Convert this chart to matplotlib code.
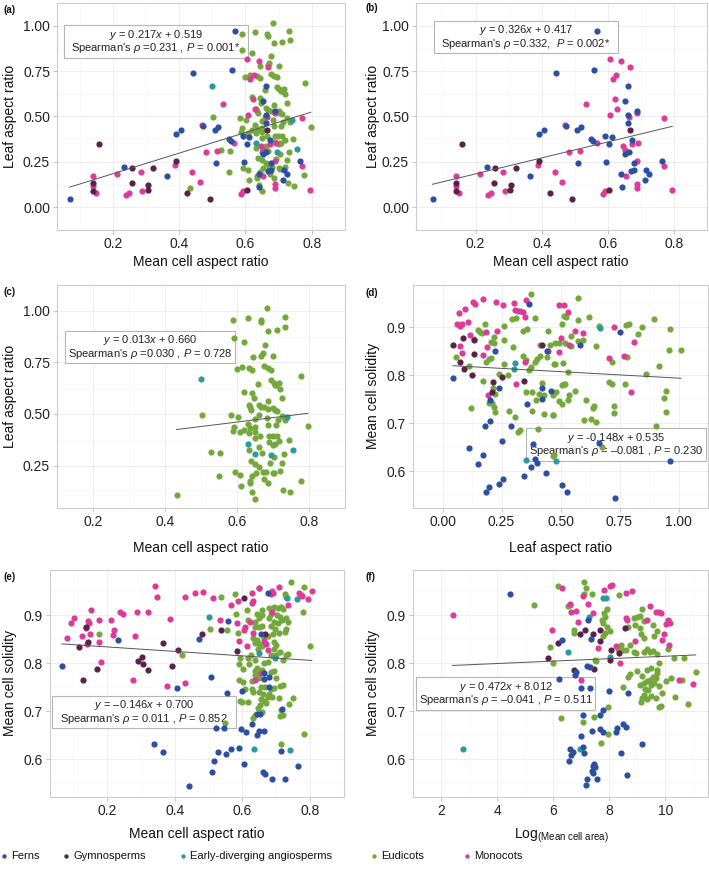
import matplotlib
matplotlib.use('Agg')
import matplotlib.pyplot as plt
from matplotlib.patches import Rectangle
import numpy as np

W, H = 709, 872
plt.rcParams['font.family'] = ['Liberation Sans', 'DejaVu Sans']
plt.rcParams['mathtext.fontset'] = 'custom'
plt.rcParams['mathtext.rm'] = 'Liberation Sans'
plt.rcParams['mathtext.it'] = 'Liberation Sans:italic'
plt.rcParams['mathtext.bf'] = 'Liberation Sans:bold'

# ---------------- colours / groups ----------------
groups = ['Ferns', 'Gymnosperms', 'Early-diverging angiosperms', 'Eudicots', 'Monocots']
colors = {'Ferns': '#2d4fa1', 'Gymnosperms': '#5b2249', 'Early-diverging angiosperms': '#2a9a9c',
          'Eudicots': '#74a83c', 'Monocots': '#de3a98'}

# ---------------- panels a/b/c : mean cell aspect ratio vs leaf aspect ratio ----------------
fern_car = [0.070,0.234,0.365,0.392,0.407,0.443,0.473,0.507,0.518,0.511,0.550,0.555,0.559,0.568,0.592,
            0.596,0.604,0.612,0.640,0.642,0.652,0.652,0.662,0.662,0.662,0.663,0.669,0.673,0.678,0.678,
            0.688,0.713,0.717,0.725,0.764]
fern_lar = [0.045,0.224,0.174,0.402,0.427,0.737,0.447,0.424,0.443,0.242,0.378,0.363,0.755,0.970,0.393,
            0.252,0.350,0.387,0.183,0.112,0.585,0.292,0.669,0.509,0.462,0.305,0.199,0.369,0.204,0.242,
            0.529,0.151,0.204,0.186,0.257]
gym_car = [0.160,0.142,0.140,0.259,0.257,0.306,0.305,0.322,0.392,0.425,0.493,0.604,0.666]
gym_lar = [0.347,0.133,0.088,0.214,0.136,0.121,0.094,0.218,0.257,0.076,0.045,0.097,0.426]
mono_car = [0.142,0.142,0.150,0.213,0.239,0.248,0.284,0.288,0.388,0.440,0.462,0.470,0.482,0.515,0.533,
            0.566,0.587,0.592,0.606,0.608,0.615,0.625,0.622,0.628,0.641,0.647,0.653,0.654,0.667,0.665,
            0.673,0.688,0.688,0.688,0.688,0.692,0.769,0.769,0.795]
mono_lar = [0.174,0.115,0.076,0.186,0.065,0.076,0.192,0.088,0.231,0.192,0.140,0.453,0.307,0.308,0.568,
            0.352,0.073,0.088,0.816,0.506,0.707,0.730,0.598,0.539,0.804,0.338,0.314,0.175,0.775,0.497,
            0.350,0.520,0.257,0.130,0.109,0.356,0.491,0.228,0.094]
early_car = [0.500,0.631,0.650,0.694,0.739,0.755]
early_lar = [0.670,0.352,0.306,0.303,0.483,0.323]
eud_car = [0.683,0.589,0.630,0.666,0.668,0.732,0.733,0.687,0.711,0.591,0.620,0.678,0.672,0.668,0.645,
           0.700,0.599,0.615,0.634,0.643,0.676,0.686,0.695,0.778,0.694,0.702,0.709,0.716,0.706,0.719,
           0.659,0.620,0.643,0.646,0.726,0.686,0.502,0.583,0.602,0.632,0.635,0.639,0.662,0.668,0.676,
           0.685,0.700,0.705,0.711,0.683,0.649,0.660,0.713,0.726,0.733,0.797,0.591,0.588,0.607,0.619,
           0.630,0.632,0.637,0.651,0.650,0.650,0.665,0.685,0.707,0.689,0.699,0.711,0.689,0.700,0.706,
           0.718,0.744,0.527,0.554,0.632,0.662,0.669,0.704,0.730,0.638,0.650,0.692,0.662,0.672,0.680,
           0.700,0.703,0.720,0.725,0.594,0.609,0.551,0.643,0.653,0.636,0.635,0.675,0.686,0.610,0.777,
           0.728,0.746,0.641,0.650,0.432]
eud_lar = [1.015,0.953,0.964,0.953,0.944,0.970,0.923,0.902,0.909,0.867,0.848,0.833,0.794,0.783,0.776,
           0.779,0.720,0.727,0.723,0.711,0.732,0.723,0.715,0.682,0.664,0.652,0.641,0.652,0.638,0.623,
           0.644,0.608,0.600,0.577,0.576,0.564,0.497,0.494,0.483,0.542,0.533,0.521,0.545,0.536,0.532,
           0.524,0.530,0.520,0.512,0.482,0.477,0.495,0.470,0.492,0.470,0.442,0.436,0.417,0.411,0.424,
           0.452,0.409,0.430,0.435,0.412,0.382,0.394,0.448,0.448,0.395,0.395,0.395,0.362,0.348,0.356,
           0.370,0.376,0.317,0.312,0.327,0.338,0.311,0.292,0.306,0.273,0.259,0.264,0.242,0.220,0.220,
           0.214,0.212,0.221,0.262,0.217,0.205,0.197,0.197,0.214,0.174,0.164,0.183,0.164,0.152,0.176,
           0.133,0.120,0.121,0.088,0.109]

# ---------------- panel d : leaf aspect ratio vs mean cell solidity ----------------
fern_d_x = [0.044,0.222,0.367,0.442,0.240,0.202,0.202,0.181,0.291,0.359,0.423,0.423,0.459,0.112,0.173,
            0.152,0.250,0.384,0.391,0.399,0.376,0.347,0.439,0.257,0.240,0.198,0.184,0.581,0.751,0.664,
            0.964,0.507,0.528,0.732]
fern_d_y = [0.794,0.851,0.947,0.851,0.772,0.749,0.704,0.693,0.693,0.739,0.773,0.750,0.767,0.649,0.633,
            0.615,0.662,0.657,0.625,0.616,0.608,0.589,0.596,0.584,0.574,0.567,0.557,0.862,0.889,0.658,
            0.620,0.570,0.557,0.544]
gym_d_x = [0.044,0.074,0.092,0.086,0.133,0.132,0.124,0.216,0.211,0.254,0.346,0.423]
gym_d_y = [0.863,0.828,0.812,0.877,0.872,0.844,0.799,0.785,0.765,0.796,0.788,0.863]
mono_d_x = [0.068,0.096,0.130,0.137,0.173,0.227,0.258,0.303,0.307,0.322,0.341,0.353,0.348,0.062,0.076,
            0.084,0.108,0.076,0.084,0.115,0.186,0.229,0.190,0.170,0.192,0.310,0.348,0.445,0.492,0.515,
            0.530,0.502,0.493,0.537,0.563,0.594,0.728,0.705,0.770,0.810,0.799]
mono_d_y = [0.930,0.937,0.952,0.947,0.958,0.952,0.946,0.950,0.935,0.933,0.931,0.956,0.921,0.906,0.903,
            0.907,0.910,0.861,0.846,0.883,0.890,0.892,0.858,0.841,0.758,0.781,0.828,0.851,0.945,0.945,
            0.931,0.877,0.847,0.863,0.891,0.887,0.901,0.835,0.839,0.869,0.765]
early_d_x = [0.327,0.307,0.304,0.352,0.668,0.481]
early_d_y = [0.934,0.824,0.813,0.623,0.898,0.620]
eud_d_x = [0.376,0.058,0.112,0.132,0.151,0.160,0.168,0.178,0.204,0.220,0.220,0.184,0.198,0.206,0.170,
           0.122,0.214,0.221,0.199,0.208,0.217,0.221,0.262,0.260,0.262,0.241,0.276,0.299,0.293,0.310,
           0.340,0.358,0.343,0.394,0.355,0.365,0.377,0.391,0.400,0.415,0.307,0.319,0.327,0.282,0.353,
           0.378,0.380,0.395,0.420,0.408,0.432,0.467,0.432,0.470,0.405,0.445,0.413,0.444,0.477,0.471,
           0.573,0.513,0.525,0.575,0.620,0.505,0.546,0.456,0.478,0.492,0.519,0.545,0.576,0.597,0.652,
           0.663,0.777,0.791,0.844,0.830,0.898,0.965,0.959,1.010,0.780,0.717,0.474,0.511,0.918,0.532,
           0.863,0.505,0.513,0.521,0.705,0.718,0.773,0.483,0.948,0.538,0.563,0.940,0.492,0.507,0.531,
           0.606,0.642,0.636,0.728,0.725,0.948,0.468,0.598,0.631,0.651,0.904,0.469,0.677]
eud_d_y = [0.969,0.838,0.819,0.876,0.894,0.890,0.888,0.907,0.868,0.879,0.867,0.827,0.834,0.836,0.788,
           0.731,0.773,0.760,0.741,0.742,0.733,0.724,0.902,0.873,0.822,0.802,0.801,0.859,0.916,0.919,
           0.892,0.896,0.840,0.918,0.831,0.810,0.817,0.828,0.834,0.840,0.712,0.681,0.685,0.726,0.765,
           0.765,0.726,0.747,0.783,0.761,0.758,0.758,0.718,0.717,0.687,0.892,0.863,0.838,0.822,0.633,
           0.960,0.922,0.920,0.914,0.921,0.906,0.882,0.862,0.866,0.866,0.866,0.860,0.870,0.872,0.860,
           0.902,0.905,0.907,0.901,0.885,0.917,0.895,0.852,0.852,0.838,0.827,0.822,0.825,0.819,0.806,
           0.802,0.780,0.781,0.781,0.786,0.781,0.781,0.765,0.767,0.759,0.766,0.752,0.745,0.740,0.749,
           0.749,0.735,0.731,0.735,0.721,0.724,0.716,0.707,0.709,0.703,0.693,0.632,0.651]

# ---------------- panel e : mean cell aspect ratio vs mean cell solidity ----------------
fern_e_x = [0.067,0.233,0.340,0.366,0.408,0.471,0.558,0.508,0.554,0.675,0.655,0.522,0.545,0.595,0.611,
            0.627,0.642,0.652,0.643,0.650,0.663,0.664,0.678,0.664,0.680,0.600,0.718,0.589,0.567,0.551,
            0.528,0.517,0.510,0.606,0.714,0.765,0.662,0.668,0.688,0.727,0.443]
fern_e_y = [0.793,0.849,0.632,0.614,0.749,0.850,0.888,0.772,0.738,0.946,0.861,0.665,0.665,0.662,0.657,
            0.673,0.693,0.693,0.650,0.658,0.658,0.779,0.771,0.767,0.750,0.741,0.705,0.624,0.620,0.611,
            0.614,0.597,0.573,0.589,0.617,0.585,0.573,0.569,0.558,0.558,0.544]
gym_e_x = [0.117,0.139,0.143,0.171,0.129,0.292,0.304,0.308,0.320,0.365,0.393,0.410,0.480,0.538,0.604,
           0.583,0.666]
gym_e_y = [0.833,0.876,0.845,0.788,0.765,0.805,0.812,0.798,0.786,0.842,0.795,0.828,0.861,0.870,0.936,
           0.825,0.861]
mono_e_x = [0.083,0.095,0.102,0.126,0.138,0.143,0.148,0.154,0.149,0.142,0.178,0.176,0.184,0.212,0.221,
            0.217,0.238,0.247,0.284,0.288,0.278,0.322,0.343,0.348,0.376,0.387,0.430,0.432,0.461,0.483,
            0.514,0.565,0.588,0.629,0.632,0.627,0.649,0.686,0.691,0.684,0.709,0.768,0.772,0.776,0.794,
            0.805,0.735,0.533,0.585,0.607,0.606,0.622,0.631,0.590,0.614,0.664,0.671,0.675,0.686,0.655,
            0.638]
mono_e_y = [0.852,0.883,0.894,0.856,0.873,0.888,0.883,0.910,0.861,0.840,0.890,0.845,0.803,0.889,0.868,
            0.859,0.906,0.903,0.857,0.907,0.765,0.907,0.960,0.938,0.753,0.892,0.758,0.938,0.946,0.949,
            0.935,0.921,0.930,0.946,0.929,0.925,0.956,0.950,0.947,0.943,0.959,0.947,0.942,0.940,0.933,
            0.950,0.922,0.890,0.883,0.876,0.868,0.886,0.863,0.847,0.836,0.846,0.840,0.828,0.906,0.780,
            0.765]
early_e_x = [0.501,0.733,0.760,0.650,0.695,0.634,0.741]
early_e_y = [0.897,0.935,0.933,0.822,0.810,0.622,0.619]
eud_e_x = [0.744,0.781,0.648,0.577,0.537,0.726,0.730,0.780,0.799,0.782,0.714,0.503,0.554,0.422,0.586,
           0.580,0.614,0.642,0.657,0.680,0.693,0.704,0.714,0.721,0.684,0.701,0.712,0.730,0.736,0.717,
           0.706,0.693,0.678,0.659,0.648,0.637,0.618,0.637,0.648,0.659,0.684,0.695,0.730,0.727,0.707,
           0.690,0.675,0.631,0.644,0.664,0.638,0.649,0.659,0.693,0.698,0.712,0.730,0.735,0.693,0.646,
           0.684,0.698,0.625,0.618,0.594,0.590,0.620,0.638,0.664,0.677,0.721,0.602,0.636,0.643,0.657,
           0.684,0.693,0.636,0.649,0.590,0.603,0.627,0.650,0.698,0.721,0.710,0.627,0.655,0.668,0.684,
           0.693,0.609,0.631,0.648,0.661,0.680,0.687,0.749,0.707,0.592,0.600,0.617,0.655,0.664,0.675,
           0.670,0.652,0.738,0.721,0.714,0.712,0.646,0.658,0.632,0.636,0.549,0.178]
eud_e_y = [0.968,0.958,0.956,0.944,0.938,0.944,0.938,0.906,0.835,0.652,0.632,0.871,0.869,0.817,0.863,
           0.903,0.911,0.903,0.911,0.915,0.917,0.915,0.917,0.913,0.903,0.901,0.896,0.893,0.885,0.890,
           0.883,0.885,0.893,0.901,0.893,0.886,0.890,0.876,0.876,0.878,0.878,0.872,0.871,0.865,0.862,
           0.861,0.856,0.852,0.848,0.853,0.842,0.840,0.835,0.845,0.837,0.824,0.817,0.820,0.830,0.830,
           0.817,0.817,0.816,0.811,0.811,0.799,0.799,0.806,0.800,0.802,0.806,0.788,0.783,0.789,0.785,
           0.782,0.784,0.776,0.778,0.765,0.761,0.762,0.770,0.768,0.755,0.753,0.747,0.751,0.750,0.746,
           0.749,0.746,0.739,0.739,0.736,0.735,0.730,0.727,0.728,0.721,0.718,0.718,0.725,0.721,0.729,
           0.716,0.713,0.714,0.692,0.703,0.690,0.707,0.699,0.685,0.692,0.675,0.860]

# ---------------- panel f : log(mean cell area) vs mean cell solidity ----------------
fern_f_x = [4.47,6.31,7.23,7.34,7.20,7.31,6.83,6.78,6.21,6.99,7.31,8.00,8.65,7.07,7.67,7.76,7.39,7.66,
            7.77,8.23,8.27,8.49,8.58,6.99,7.07,6.61,6.71,6.63,6.58,7.10,8.41,9.17,7.47,7.42,7.50,7.39,
            7.41,7.21,7.55,7.17,8.64]
fern_f_y = [0.945,0.849,0.889,0.850,0.794,0.791,0.782,0.776,0.767,0.749,0.749,0.741,0.738,0.692,0.691,
            0.702,0.658,0.662,0.656,0.656,0.665,0.674,0.666,0.649,0.625,0.622,0.614,0.609,0.595,0.613,
            0.612,0.632,0.590,0.585,0.583,0.576,0.572,0.558,0.558,0.545,0.567]
gym_f_x = [5.80,6.18,6.96,7.15,7.42,7.66,8.06,8.34,8.56,7.67,6.74,7.44,8.01]
gym_f_y = [0.811,0.842,0.861,0.868,0.861,0.868,0.828,0.822,0.874,0.847,0.786,0.787,0.806]
mono_f_x = [2.41,5.97,6.33,7.07,6.60,6.80,6.64,7.23,7.42,6.88,7.80,8.01,8.11,8.61,8.82,7.61,8.23,8.58,
            8.63,8.92,7.00,8.39,9.46,9.66,9.78,9.84,9.33,10.08,10.17,10.02,9.96,9.87,10.13,10.47,10.99]
mono_f_y = [0.900,0.868,0.956,0.940,0.924,0.908,0.906,0.923,0.904,0.886,0.953,0.961,0.963,0.947,0.951,
            0.831,0.835,0.894,0.890,0.847,0.765,0.801,0.918,0.906,0.907,0.905,0.890,0.889,0.883,0.881,
            0.861,0.849,0.838,0.764,0.757]
early_f_x = [2.78,6.53,7.78,7.87,7.28,8.04,6.96]
early_f_y = [0.622,0.824,0.935,0.935,0.897,0.812,0.620]
eud_f_x = [5.33,6.16,7.09,7.17,7.09,7.37,6.53,6.61,5.90,6.01,6.73,6.73,6.26,7.07,7.48,7.54,7.74,7.77,
           7.85,7.81,7.91,7.93,8.02,7.78,7.85,7.95,7.47,7.71,7.95,8.34,8.49,8.68,8.74,8.68,8.88,8.99,
           9.10,9.17,8.92,9.10,9.23,9.57,9.69,9.61,9.12,9.25,8.74,8.58,8.42,8.50,8.88,8.96,9.23,9.35,
           9.44,9.55,9.71,9.79,10.09,10.31,10.67,11.08,10.81,10.35,10.58,10.19,10.01,9.79,9.69,9.71,
           9.49,9.35,9.15,9.00,9.55,9.66,9.44,9.33,9.23,9.10,9.48,9.60,9.28,9.39,9.25,9.17,9.12,9.33,
           9.49,9.66,9.87,9.85,9.76,8.31]
eud_f_y = [0.922,0.960,0.968,0.956,0.944,0.944,0.919,0.922,0.833,0.801,0.869,0.862,0.685,0.678,0.806,
           0.804,0.890,0.883,0.896,0.904,0.912,0.875,0.866,0.857,0.863,0.708,0.687,0.633,0.652,0.941,
           0.751,0.771,0.778,0.876,0.894,0.897,0.899,0.913,0.880,0.873,0.887,0.880,0.866,0.857,0.860,
           0.852,0.838,0.828,0.838,0.828,0.824,0.822,0.824,0.830,0.823,0.825,0.818,0.800,0.830,0.810,
           0.810,0.781,0.715,0.730,0.765,0.769,0.762,0.753,0.786,0.779,0.790,0.786,0.774,0.783,0.772,
           0.769,0.765,0.762,0.758,0.755,0.755,0.758,0.747,0.743,0.734,0.727,0.719,0.725,0.732,0.727,
           0.738,0.711,0.708,0.829]

# fitted lines as drawn (slope, intercept)
fit_a = (0.568, 0.071)
fit_b = (0.440, 0.096)
fit_c = (0.216, 0.331)
fit_d = (-0.0271, 0.8206)
fit_e = (-0.0467, 0.8431)
fit_f = (0.00253, 0.789)

labels_a = (r"$y$ = 0.217$x$ + 0.519", r"Spearman's $\rho$ =0.231 , $P$ = 0.001*")
labels_b = (r"$y$ = 0.326$x$ + 0.417", r"Spearman's $\rho$ =0.332,  $P$ = 0.002*")
labels_c = (r"$y$ = 0.013$x$ + 0.660", r"Spearman's $\rho$ =0.030 , $P$ = 0.728")
labels_d = (r"$y$ = -0.148$x$ + 0.535", r"Spearman's $\rho$ = –0.081 , $P$ = 0.230")
labels_e = (r"$y$ = –0.146$x$ + 0.700", r"Spearman's $\rho$ = 0.011 , $P$ = 0.852")
labels_f = (r"$y$ = 0.472$x$ + 8.012", r"Spearman's $\rho$ = –0.041 , $P$ = 0.511")

fig = plt.figure(figsize=(W / 100, H / 100), dpi=100)


def px_ax(l, t, r, b):
    return fig.add_axes([l / W, 1 - b / H, (r - l) / W, (b - t) / H])


def style(ax, xlim, ylim, xt, yt, xtl, ytl):
    ax.set_xlim(xlim)
    ax.set_ylim(ylim)
    ax.set_xticks(xt)
    ax.set_xticklabels(xtl)
    ax.set_yticks(yt)
    ax.set_yticklabels(ytl)
    sx = xt[1] - xt[0]
    sy = yt[1] - yt[0]
    ax.set_xticks(np.arange(xt[0] - sx / 2, xt[-1] + sx, sx), minor=True)
    ax.set_yticks(np.arange(yt[0] - sy / 2, yt[-1] + sy, sy), minor=True)
    ax.grid(True, which='major', color='#ebebeb', lw=0.6)
    ax.grid(True, which='minor', color='#f5f5f5', lw=0.4)
    ax.set_axisbelow(True)
    for s in ax.spines.values():
        s.set_color('#cccccc')
        s.set_linewidth(0.8)
    ax.tick_params(which='major', length=3, width=0.6, color='#bbbbbb', labelsize=10,
                   labelcolor='#222222', pad=2)
    ax.tick_params(which='minor', length=0)


def stat_box(ax, l, t, r, b, lines):
    rect = Rectangle((l / W, 1 - b / H), (r - l) / W, (b - t) / H, transform=fig.transFigure,
                     fc='white', ec='#b5b5b5', lw=0.8, zorder=1.5, clip_on=False)
    ax.add_patch(rect)
    cx = (l + r) / 2 / W
    for frac, s in zip((0.29, 0.71), lines):
        ax.text(cx, 1 - (t + (b - t) * frac) / H, s, transform=fig.transFigure, ha='center',
                va='center', fontsize=8, color='#222222', zorder=1.6)


def scatter_sets(ax, sets):
    for name, xs, ys in sets:
        ax.scatter(xs, ys, s=20, color=colors[name], linewidths=0, zorder=3)


def fit_line(ax, fit, sets):
    allx = np.concatenate([np.asarray(s[1], float) for s in sets])
    xx = np.array([allx.min(), allx.max()])
    ax.plot(xx, fit[0] * xx + fit[1], color='#555555', lw=0.7, zorder=4)


def fig_text(x, y, s, **kw):
    fig.text(x / W, 1 - y / H, s, **kw)


t5 = [0.0, 0.25, 0.5, 0.75, 1.0]
t5l = ['0.00', '0.25', '0.50', '0.75', '1.00']
tx4 = [0.2, 0.4, 0.6, 0.8]
tx4l = ['0.2', '0.4', '0.6', '0.8']
ty4 = [0.6, 0.7, 0.8, 0.9]
ty4l = ['0.6', '0.7', '0.8', '0.9']

# ---- (a)
sets_a = [('Eudicots', eud_car, eud_lar), ('Early-diverging angiosperms', early_car, early_lar),
          ('Monocots', mono_car, mono_lar), ('Gymnosperms', gym_car, gym_lar), ('Ferns', fern_car, fern_lar)]
axa = px_ax(57, 3, 345, 230)
style(axa, (0.032, 0.842), (-0.03, 1.049), tx4, t5, tx4l, t5l)
stat_box(axa, 64, 25, 248, 58, labels_a)
scatter_sets(axa, sets_a)
fit_line(axa, fit_a, sets_a)

# ---- (b)
sets_b = [('Monocots', mono_car, mono_lar), ('Gymnosperms', gym_car, gym_lar), ('Ferns', fern_car, fern_lar)]
axb = px_ax(416, 3, 707, 230)
style(axb, (0.02, 0.838), (-0.015, 1.014), tx4, t5, tx4l, t5l)
stat_box(axb, 434, 21, 618, 53, labels_b)
scatter_sets(axb, sets_b)
fit_line(axb, fit_b, sets_b)

# ---- (c)
sets_c = [('Eudicots', eud_car, eud_lar), ('Early-diverging angiosperms', early_car, early_lar)]
axc = px_ax(57, 285, 345, 508)
style(axc, (0.15, 0.83), (0.044, 1.058), tx4, t5[1:], tx4l, t5l[1:])
stat_box(axc, 65, 331, 235, 363, labels_c)
scatter_sets(axc, sets_c)
fit_line(axc, fit_c, sets_c)

# ---- (d)
sets_d = [('Eudicots', eud_d_x, eud_d_y), ('Early-diverging angiosperms', early_d_x, early_d_y),
          ('Monocots', mono_d_x, mono_d_y), ('Gymnosperms', gym_d_x, gym_d_y), ('Ferns', fern_d_x, fern_d_y)]
axd = px_ax(413, 285, 708, 508)
style(axd, (-0.005, 1.06), (0.523, 0.9875), t5, ty4, t5l, ty4l)
stat_box(axd, 526, 428, 706, 461, labels_d)
scatter_sets(axd, sets_d)
fit_line(axd, fit_d, sets_d)

# ---- (e)
sets_e = [('Eudicots', eud_e_x, eud_e_y), ('Early-diverging angiosperms', early_e_x, early_e_y),
          ('Monocots', mono_e_x, mono_e_y), ('Gymnosperms', gym_e_x, gym_e_y), ('Ferns', fern_e_x, fern_e_y)]
axe = px_ax(50, 570, 344, 797)
style(axe, (0.032, 0.844), (0.521, 0.994), tx4, ty4, tx4l, ty4l)
stat_box(axe, 52, 696, 236, 728, labels_e)
scatter_sets(axe, sets_e)
fit_line(axe, fit_e, sets_e)

# ---- (f)
sets_f = [('Eudicots', eud_f_x, eud_f_y), ('Early-diverging angiosperms', early_f_x, early_f_y),
          ('Monocots', mono_f_x, mono_f_y), ('Gymnosperms', gym_f_x, gym_f_y), ('Ferns', fern_f_x, fern_f_y)]
axf = px_ax(413, 570, 708, 797)
style(axf, (1.98, 11.52), (0.521, 0.994), [2, 4, 6, 8, 10], ty4, ['2', '4', '6', '8', '10'], ty4l)
stat_box(axf, 416, 677, 595, 710, labels_f)
scatter_sets(axf, sets_f)
fit_line(axf, fit_f, sets_f)

# ---- axis titles
lab_kw = dict(fontsize=10, color='#111111', ha='center', va='center')
fig_text(201, 262, 'Mean cell aspect ratio', **lab_kw)
fig_text(561, 262, 'Mean cell aspect ratio', **lab_kw)
fig_text(201, 548, 'Mean cell aspect ratio', **lab_kw)
fig_text(561, 548, 'Leaf aspect ratio', **lab_kw)
fig_text(197, 834, 'Mean cell aspect ratio', **lab_kw)
fig_text(561, 836, r'Log$_{\mathregular{(Mean\ cell\ area)}}$', **lab_kw)
fig_text(10, 116, 'Leaf aspect ratio', rotation=90, **lab_kw)
fig_text(373, 116, 'Leaf aspect ratio', rotation=90, **lab_kw)
fig_text(10, 396, 'Leaf aspect ratio', rotation=90, **lab_kw)
fig_text(373, 396, 'Mean cell solidity', rotation=90, **lab_kw)
fig_text(10, 683, 'Mean cell solidity', rotation=90, **lab_kw)
fig_text(373, 683, 'Mean cell solidity', rotation=90, **lab_kw)

# ---- panel letters
pl_kw = dict(fontsize=7, fontweight='bold', color='#111111', ha='left', va='center')
fig_text(3, 10, '(a)', **pl_kw)
fig_text(366, 8, '(b)', **pl_kw)
fig_text(3, 292, '(c)', **pl_kw)
fig_text(366, 293, '(d)', **pl_kw)
fig_text(3, 577, '(e)', **pl_kw)
fig_text(366, 577, '(f)', **pl_kw)

# ---- legend
lax = fig.add_axes([0, 0, 1, 1])
lax.set_xlim(0, W)
lax.set_ylim(H, 0)
lax.axis('off')
lax.patch.set_alpha(0)
leg_x = [4, 66, 183, 374, 467]
for gx, g in zip(leg_x, groups):
    lax.scatter([gx], [856], s=10, color=colors[g], linewidths=0)
    lax.text(gx + 7, 856, g, fontsize=8, color='#111111', ha='left', va='center')

fig.savefig('out.png', dpi=100)
